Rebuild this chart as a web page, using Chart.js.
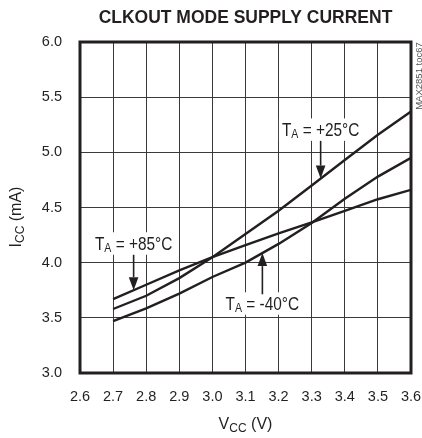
<!DOCTYPE html>
<html>
<head>
<meta charset="utf-8">
<script src="https://cdn.jsdelivr.net/npm/chart.js@4.4.1/dist/chart.umd.min.js"></script>
<style>
  html, body { margin: 0; padding: 0; background: #fff; }
  canvas { display: block; }
</style>
</head>
<body>
<canvas id="chart" width="422" height="438"></canvas>
<script>
// supply voltage (V) and supply current (mA) per ambient temperature
const vcc = [2.7, 2.8, 2.9, 3.0, 3.1, 3.2, 3.3, 3.4, 3.5, 3.6];
const icc85 = [3.67, 3.80, 3.93, 4.05, 4.16, 4.265, 4.365, 4.47, 4.575, 4.66];
const icc25 = [3.58, 3.70, 3.86, 4.05, 4.26, 4.47, 4.70, 4.93, 5.16, 5.37];
const iccM40 = [3.47, 3.585, 3.72, 3.87, 4.00, 4.17, 4.36, 4.58, 4.78, 4.95];

const xTicks = [2.6, 2.7, 2.8, 2.9, 3.0, 3.1, 3.2, 3.3, 3.4, 3.5, 3.6];
const yTicks = [3.0, 3.5, 4.0, 4.5, 5.0, 5.5, 6.0];

const FONT = "'Liberation Sans', Arial, Helvetica, sans-serif";
const INK = '#231f20';

// callouts: which series the arrow points at, where (V), and label baseline (mA)
const notes = [
  { temp: '+25°C', series: 1, x: 3.327, baseY: 5.149, dir: 'down' },
  { temp: '+85°C', series: 0, x: 2.762, baseY: 4.117, dir: 'down' },
  { temp: '-40°C', series: 2, x: 3.151, baseY: 3.573, dir: 'up' }
];

const series = [icc85, icc25, iccM40];

function interp(ys, x) {
  for (let i = 0; i < vcc.length - 1; i++) {
    if (x >= vcc[i] && x <= vcc[i + 1]) {
      const t = (x - vcc[i]) / (vcc[i + 1] - vcc[i]);
      return ys[i] + t * (ys[i + 1] - ys[i]);
    }
  }
  return ys[ys.length - 1];
}

// text with subscripts, centred on cx, horizontally squeezed by sx
function drawRich(ctx, parts, cx, y, o) {
  const weight = o.weight || 'normal';
  ctx.save();
  ctx.translate(cx, y);
  ctx.scale(o.sx || 1, 1);
  ctx.textAlign = 'left';
  ctx.textBaseline = 'alphabetic';
  ctx.fillStyle = o.color || INK;
  let w = 0;
  parts.forEach(p => {
    ctx.font = `${weight} ${p[1] ? o.sub : o.size}px ${FONT}`;
    w += ctx.measureText(p[0]).width;
  });
  let x = -w / 2;
  parts.forEach(p => {
    ctx.font = `${weight} ${p[1] ? o.sub : o.size}px ${FONT}`;
    ctx.fillText(p[0], x, p[1] ? o.shift : 0);
    x += ctx.measureText(p[0]).width;
  });
  ctx.restore();
  return w * (o.sx || 1);
}

const noteStyle = { size: 17.5, sub: 12, shift: 2.5, sx: 0.88 };
const noteCap = 12.5;

function noteParts(n) {
  return [['T', 0], ['A', 1], [' = ' + n.temp, 0]];
}

function noteWidth(ctx, n) {
  let w = 0;
  noteParts(n).forEach(p => {
    ctx.font = `${p[1] ? noteStyle.sub : noteStyle.size}px ${FONT}`;
    w += ctx.measureText(p[0]).width;
  });
  return w * noteStyle.sx;
}

const decorations = {
  id: 'decorations',
  beforeDatasetsDraw(chart) {
    // white boxes behind the callout labels hide the grid
    const { ctx, scales: { x, y } } = chart;
    ctx.save();
    ctx.fillStyle = '#fff';
    notes.forEach(n => {
      const cx = x.getPixelForValue(n.x);
      const by = y.getPixelForValue(n.baseY);
      const w = noteWidth(ctx, n);
      ctx.fillRect(cx - w / 2 - 3, by - noteCap - 5, w + 6, noteCap + 10);
    });
    ctx.restore();
  },
  afterDatasetsDraw(chart) {
    const { ctx, chartArea: a, scales: { x, y } } = chart;

    // frame
    ctx.save();
    ctx.strokeStyle = INK;
    ctx.lineWidth = 3;
    ctx.strokeRect(a.left, a.top, a.right - a.left, a.bottom - a.top);
    ctx.restore();

    // callouts
    notes.forEach(n => {
      const cx = x.getPixelForValue(n.x);
      const by = y.getPixelForValue(n.baseY);
      drawRich(ctx, noteParts(n), cx, by, noteStyle);

      const tipY = y.getPixelForValue(interp(series[n.series], n.x));
      const head = 13, half = 4.8;
      const down = n.dir === 'down';
      const startY = down ? by + 5 : by - noteCap - 3;
      const baseY = down ? tipY - head : tipY + head;
      ctx.save();
      ctx.strokeStyle = INK;
      ctx.fillStyle = INK;
      ctx.lineWidth = 1.6;
      ctx.beginPath();
      ctx.moveTo(cx, startY);
      ctx.lineTo(cx, baseY);
      ctx.stroke();
      ctx.beginPath();
      ctx.moveTo(cx - half, baseY);
      ctx.lineTo(cx + half, baseY);
      ctx.lineTo(cx, tipY);
      ctx.closePath();
      ctx.fill();
      ctx.restore();
    });
  },
  afterDraw(chart) {
    const { ctx, chartArea: a } = chart;
    const mid = (a.left + a.right) / 2;

    drawRich(ctx, [['CLKOUT MODE SUPPLY CURRENT', 0]], mid, 22.5,
      { size: 19, sub: 19, shift: 0, sx: 0.92, weight: 'bold' });

    drawRich(ctx, [['V', 0], ['CC', 1], [' (V)', 0]], mid, 428.5,
      { size: 16, sub: 12, shift: 3.5 });

    ctx.save();
    ctx.translate(20.5, 217);
    ctx.rotate(-Math.PI / 2);
    drawRich(ctx, [['I', 0], ['CC', 1], [' (mA)', 0]], 0, 0,
      { size: 16, sub: 12, shift: 3.5 });
    ctx.restore();

    ctx.save();
    ctx.translate(421.5, 76);
    ctx.rotate(-Math.PI / 2);
    drawRich(ctx, [['MAX2851 toc67', 0]], 0, 0,
      { size: 9.5, sub: 9.5, shift: 0, color: '#555' });
    ctx.restore();
  }
};

const toPoints = ys => vcc.map((v, i) => ({ x: v, y: ys[i] }));

const line = (label, ys) => ({
  label,
  data: toPoints(ys),
  borderColor: INK,
  borderWidth: 2.4,
  pointRadius: 0,
  tension: 0,
  fill: false
});

const tickFont = { family: FONT, size: 14.5 };

new Chart(document.getElementById('chart'), {
  type: 'line',
  data: {
    datasets: [
      line('TA = +85°C', icc85),
      line('TA = +25°C', icc25),
      line('TA = -40°C', iccM40)
    ]
  },
  options: {
    responsive: false,
    animation: false,
    layout: { padding: { top: 42, right: 11, left: 0, bottom: 0 } },
    plugins: {
      legend: { display: false },
      tooltip: { enabled: false },
      title: { display: false }
    },
    scales: {
      x: {
        type: 'linear',
        min: 2.6,
        max: 3.6,
        afterBuildTicks: s => { s.ticks = xTicks.map(v => ({ value: v })); },
        afterFit: s => {
          s.height = 65;
          s.paddingLeft = 0;
          s.paddingRight = 0;
        },
        ticks: {
          callback: v => v.toFixed(1),
          font: tickFont,
          color: INK,
          padding: 15,
          maxRotation: 0,
          autoSkip: false
        },
        grid: { color: '#3a3a3a', lineWidth: 1, drawTicks: false },
        border: { display: false }
      },
      y: {
        min: 3,
        max: 6,
        afterBuildTicks: s => { s.ticks = yTicks.map(v => ({ value: v })); },
        afterFit: s => {
          s.width = 80;
          s.paddingTop = 0;
          s.paddingBottom = 0;
        },
        ticks: {
          callback: v => v.toFixed(1),
          font: tickFont,
          color: INK,
          padding: 18
        },
        grid: { color: '#3a3a3a', lineWidth: 1, drawTicks: false },
        border: { display: false }
      }
    }
  },
  plugins: [decorations]
});
</script>
</body>
</html>
